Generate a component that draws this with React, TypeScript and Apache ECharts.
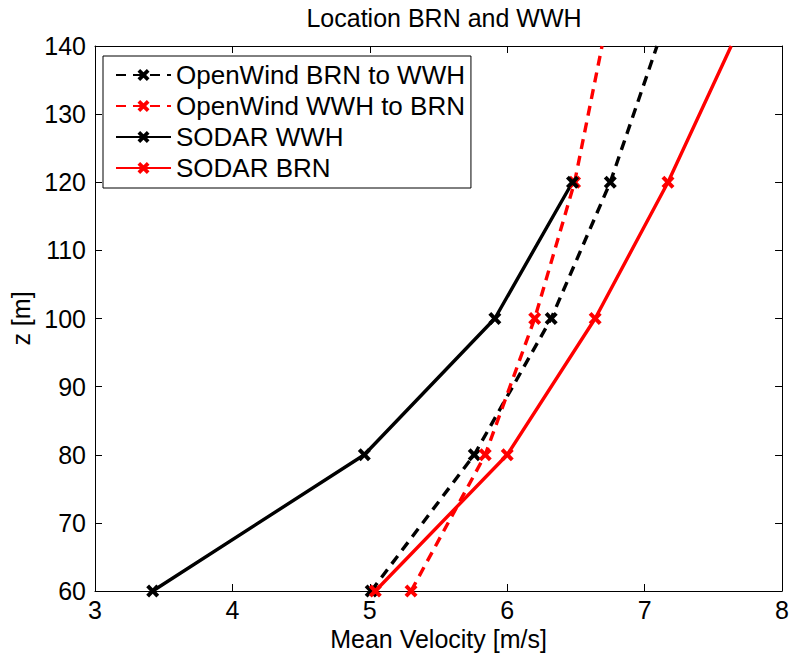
import { useEffect, useRef } from "react";
import * as echarts from "echarts";

// ---- Data ----
const heights = [60, 80, 100, 120];
const topHeight = 140;
const openWindBrnToWwh = [5.01, 5.76, 6.32, 6.75];
const openWindBrnToWwhTop = 7.09;
const openWindWwhToBrn = [5.3, 5.84, 6.2, 6.49];
const openWindWwhToBrnTop = 6.69;
const sodarWwh = [3.42, 4.96, 5.91, 6.475];
const sodarBrn = [5.04, 6.0, 6.64, 7.17];
const sodarBrnTop = 7.63;

const seriesNames = [
  "OpenWind BRN to WWH",
  "OpenWind WWH to BRN",
  "SODAR WWH",
  "SODAR BRN",
];

const xMin = 3;
const xMax = 8;
const xStep = 1;
const yMin = 60;
const yMax = 140;
const yStep = 10;

const FONT = "'Liberation Sans', Arial, Helvetica, sans-serif";
const CROSS =
  "path://M0,2.2L2.2,0L5,2.8L7.8,0L10,2.2L7.2,5L10,7.8L7.8,10L5,7.2L2.2,10L0,7.8L2.8,5Z";

function buildData(vals: number[], top?: number) {
  const d: any[] = heights.map((h, i) => [vals[i], h]);
  if (top !== undefined) d.push({ value: [top, topHeight], symbol: "none" });
  return d;
}

export default function App() {
  const ref = useRef<HTMLDivElement>(null);

  useEffect(() => {
    if (!ref.current) return;
    const chart = echarts.init(ref.current, undefined, { renderer: "svg" });

    const mkSeries = (name: string, data: any[], color: string, dashed: boolean) => ({
      name,
      type: "line",
      data,
      xAxisIndex: 0,
      yAxisIndex: 0,
      symbol: CROSS,
      symbolSize: 13,
      showSymbol: true,
      clip: true,
      lineStyle: { color, width: 3.4, type: dashed ? [10, 7] : "solid" },
      itemStyle: { color, borderWidth: 0 },
      emphasis: { disabled: true },
    });

    const axisCommon = {
      axisLine: { show: true, lineStyle: { color: "#000", width: 1 } },
      axisTick: { show: true, inside: true, length: 7, lineStyle: { color: "#000", width: 1 } },
      splitLine: { show: false },
    };

    chart.setOption({
      animation: false,
      backgroundColor: "#fff",
      title: {
        text: "Location BRN and WWH",
        left: 444,
        top: 5,
        padding: 0,
        textAlign: "center",
        textStyle: { fontFamily: FONT, fontSize: 25, fontWeight: "normal", color: "#000" },
      },
      grid: { left: 95, right: 9, top: 46, bottom: 66 },
      xAxis: [
        {
          type: "value",
          min: xMin,
          max: xMax,
          interval: xStep,
          position: "bottom",
          name: "Mean Velocity [m/s]",
          nameLocation: "middle",
          nameGap: 34,
          nameTextStyle: { fontFamily: FONT, fontSize: 25, color: "#000" },
          axisLabel: { fontFamily: FONT, fontSize: 25, color: "#000", margin: 6 },
          ...axisCommon,
        },
        {
          type: "value",
          min: xMin,
          max: xMax,
          interval: xStep,
          position: "top",
          axisLabel: { show: false },
          ...axisCommon,
        },
      ],
      yAxis: [
        {
          type: "value",
          min: yMin,
          max: yMax,
          interval: yStep,
          position: "left",
          name: "z [m]",
          nameLocation: "middle",
          nameGap: 58,
          nameTextStyle: { fontFamily: FONT, fontSize: 25, color: "#000" },
          axisLabel: { fontFamily: FONT, fontSize: 25, color: "#000", margin: 9 },
          ...axisCommon,
        },
        {
          type: "value",
          min: yMin,
          max: yMax,
          interval: yStep,
          position: "right",
          axisLabel: { show: false },
          ...axisCommon,
        },
      ],
      legend: {
        show: true,
        data: seriesNames,
        orient: "vertical",
        left: 103,
        top: 56,
        itemWidth: 55,
        itemHeight: 15,
        itemGap: 5,
        padding: [6, 6, 7, 12],
        borderColor: "#000",
        borderWidth: 1,
        backgroundColor: "#fff",
        selectedMode: false,
        textStyle: { fontFamily: FONT, fontSize: 26, lineHeight: 26, color: "#000" },
      },
      series: [
        mkSeries(seriesNames[0], buildData(openWindBrnToWwh, openWindBrnToWwhTop), "#000", true),
        mkSeries(seriesNames[1], buildData(openWindWwhToBrn, openWindWwhToBrnTop), "#ff0000", true),
        mkSeries(seriesNames[2], buildData(sodarWwh), "#000", false),
        mkSeries(seriesNames[3], buildData(sodarBrn, sodarBrnTop), "#ff0000", false),
      ],
    });

    return () => chart.dispose();
  }, []);

  return (
    <div
      ref={ref}
      style={{ position: "fixed", left: 0, top: 0, width: 792, height: 657, background: "#fff" }}
    />
  );
}
